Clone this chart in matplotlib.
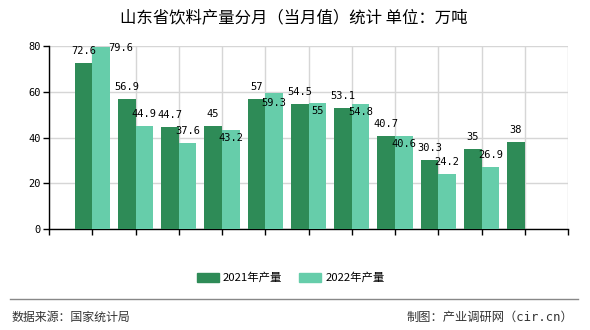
import matplotlib
matplotlib.use("Agg")
import matplotlib.pyplot as plt
from matplotlib.patches import Rectangle
from matplotlib.lines import Line2D

plt.rcParams['font.family'] = ['Noto Sans CJK SC', 'DejaVu Sans']

categories = ["1-2月", "3月", "4月", "5月", "6月", "7月", "8月", "9月", "10月", "11月", "12月"]
values_2021 = [72.6, 56.9, 44.7, 45, 57, 54.5, 53.1, 40.7, 30.3, 35, 38]
values_2022 = [79.6, 44.9, 37.6, 43.2, 59.3, 55, 54.8, 40.6, 24.2, 26.9]
series_names = ["2021年产量", "2022年产量"]
title = "山东省饮料产量分月（当月值）统计 单位：万吨"
source = "数据来源：国家统计局"
credit = "制图：产业调研网（cir.cn）"

# label offsets for the 2022 series (pixels), style only
off_2022 = [(20, -13), (0, 0), (0, 0), (0, -20), (0, -22), (0, -20), (0, -20), (0, -20), (0, 0), (0, 0)]

c21 = "#2E8B57"
c22 = "#66CDAA"

fig = plt.figure(figsize=(5.9, 3.3), dpi=100)
ax = fig.add_axes([49/590, 1-229/330, (568-49)/590, (229-46)/330])

w = 0.41
xs = list(range(1, len(categories)+1))
ax.bar([x - w/2 for x in xs], values_2021, width=w, color=c21, zorder=3)
ax.bar([x + w/2 for x in xs[:len(values_2022)]], values_2022, width=w, color=c22, zorder=3)

lab_font = dict(family='DejaVu Sans Mono', size=7.5, color='black')
for x, v in zip(xs, values_2021):
    ax.annotate(f"{v:g}", (x - w/2, v), xytext=(0, 12), textcoords='offset pixels',
                ha='center', va='center', zorder=5, **lab_font)
for x, v, o in zip(xs, values_2022, off_2022):
    ax.annotate(f"{v:g}", (x + w/2, v), xytext=(o[0], 12 + o[1]), textcoords='offset pixels',
                ha='center', va='center', zorder=5, **lab_font)

ax.set_xlim(0, 12)
ax.set_ylim(0, 80)
ax.set_yticks([0, 20, 40, 60, 80])
ax.set_yticklabels(["0", "20", "40", "60", "80"], family='DejaVu Sans Mono', fontsize=7.5)
ax.set_xticks(list(range(0, 13)))
ax.set_xticks(xs, minor=True)
ax.set_xticklabels([])
ax.set_xticklabels(categories, minor=True, fontsize=8.2)
ax.tick_params(axis='x', which='minor', length=0, pad=4)
ax.tick_params(axis='x', which='major', length=4, width=1, color='black')
ax.tick_params(axis='y', length=4, width=1, color='black', pad=2)
ax.grid(True, color='#d6d6d6', linewidth=1, zorder=0)
for s in ['top', 'right']:
    ax.spines[s].set_visible(False)
for s in ['left', 'bottom']:
    ax.spines[s].set_color('black')
    ax.spines[s].set_linewidth(1)

fig.text(294/590, 1-18/330, title, ha='center', va='center', fontsize=11.8)

# legend
ly = 1 - 277/330
fig.patches.append(Rectangle((197/590, ly - 4.5/330), 22/590, 9/330, transform=fig.transFigure, color=c21))
fig.text(223/590, ly, series_names[0], ha='left', va='center', fontsize=8.2)
fig.patches.append(Rectangle((299/590, ly - 4.5/330), 22/590, 9/330, transform=fig.transFigure, color=c22))
fig.text(326/590, ly, series_names[1], ha='left', va='center', fontsize=8.2)

fig.lines.append(Line2D([10/590, 578/590], [1-299/330, 1-299/330], transform=fig.transFigure, color='#888888', linewidth=1))
fig.text(12/590, 1-317/330, source, ha='left', va='center', fontsize=8.6, color='#333333')
fig.text(573/590, 1-317/330, credit, ha='right', va='center', fontsize=8.8, color='#333333',
         family=['DejaVu Sans Mono', 'Noto Sans CJK SC'])

fig.savefig("out.png", dpi=100)
